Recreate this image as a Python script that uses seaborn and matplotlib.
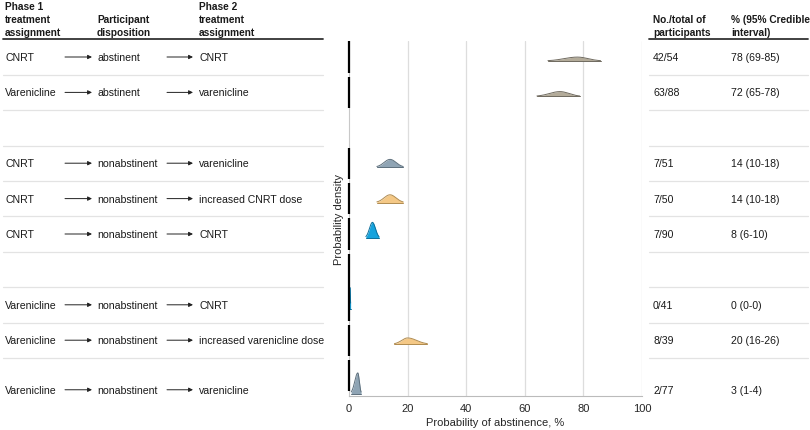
import numpy as np
import matplotlib
matplotlib.use("Agg")
import matplotlib.pyplot as plt
import seaborn as sns
from matplotlib.transforms import blended_transform_factory

# Daten aus der Abbildung
phase1 = ["CNRT", "Varenicline", "CNRT", "CNRT", "CNRT",
          "Varenicline", "Varenicline", "Varenicline"]
disposition = ["abstinent", "abstinent", "nonabstinent", "nonabstinent", "nonabstinent",
               "nonabstinent", "nonabstinent", "nonabstinent"]
phase2 = ["CNRT", "varenicline", "varenicline", "increased CNRT dose", "CNRT",
          "CNRT", "increased varenicline dose", "varenicline"]
n_abstinent = [42, 63, 7, 7, 7, 0, 8, 2]
n_total = [54, 88, 51, 50, 90, 41, 39, 77]
pct = [78, 72, 14, 14, 8, 0, 20, 3]
ci_lo = [69, 65, 10, 10, 6, 0, 16, 1]
ci_hi = [85, 78, 18, 18, 10, 0, 26, 4]
x_ticks = [0, 20, 40, 60, 80, 100]

# Layout (Zeilen-Slots, Leerzeilen bei 2 und 6)
row_slot = [0, 1, 3, 4, 5, 7, 8, 9]
last_shift = 0.4
px_per_slot = 35.4
W, H = 810, 431
ax_top_px, ax_bot_px = 42, 397
row0_px = 58

colors = {
    "abstinent": ("#b3ab99", "#6f6a5f"),
    "varenicline": ("#8fa4b4", "#5d6f7c"),
    "CNRT": ("#16a3dd", "#0b6f9b"),
    "increased": ("#f4c886", "#b08b4f"),
}


def color_key(disp, p2):
    if disp == "abstinent":
        return "abstinent"
    if p2.startswith("increased"):
        return "increased"
    return p2


sns.set_theme(style="white")
plt.rcParams["font.family"] = ["Liberation Sans", "DejaVu Sans"]
fs = 7.6
fs_hdr = 7.3

fig = plt.figure(figsize=(W / 100, H / 100), dpi=100)
ax = fig.add_axes([349 / W, 1 - ax_bot_px / H, 293 / W, (ax_bot_px - ax_top_px) / H])

y_top = (ax_top_px - row0_px) / px_per_slot
y_bot = (ax_bot_px - row0_px) / px_per_slot
ax.set_xlim(0, 100)
ax.set_ylim(y_bot, y_top)

# Gitter
for t in x_ticks[1:]:
    ax.axvline(t, color="#dddddd", lw=0.9, zorder=0)
ax.grid(False)

for s in ["top", "right"]:
    ax.spines[s].set_visible(False)
ax.spines["left"].set_color("#c8c8c8")
ax.spines["left"].set_linewidth(0.8)
ax.spines["bottom"].set_color("#bbbbbb")
ax.spines["bottom"].set_linewidth(0.8)
ax.set_yticks([])
ax.set_xticks(x_ticks)
ax.tick_params(axis="x", length=3, width=0.7, color="#999999", labelsize=fs + 0.4, pad=2)
ax.set_xlabel("Probability of abstinence, %", fontsize=fs + 0.4, labelpad=3)
ax.set_ylabel("Probability density", fontsize=fs + 0.4)
ax.yaxis.set_label_coords(-0.018, 0.5)

# Dichtekurven
dens_scale = 40 / px_per_slot
cap = 0.6
base_off = 4 / px_per_slot
gap = 2 / px_per_slot
for i in range(len(pct)):
    yc = row_slot[i] + (last_shift if i == len(pct) - 1 else 0)
    base = yc + base_off
    m = pct[i]
    s_lo = max((m - ci_lo[i]) / 1.96, 0.25)
    s_hi = max((ci_hi[i] - m) / 1.96, 0.25)
    xs = np.linspace(max(m - 2.2 * s_lo, 0), min(m + 2.2 * s_hi, 100), 200)
    sd = np.where(xs < m, s_lo, s_hi)
    dens = 2 / (np.sqrt(2 * np.pi) * (s_lo + s_hi)) * np.exp(-0.5 * ((xs - m) / sd) ** 2)
    h = np.minimum(dens * dens_scale, cap)
    fill, edge = colors[color_key(disposition[i], phase2[i])]
    ax.fill_between(xs, base, base - h, color=fill, zorder=3, lw=0)
    sns.lineplot(x=xs, y=base - h, ax=ax, color=edge, lw=0.7, zorder=4, sort=False)
    ax.plot([xs[0], xs[-1]], [base, base], color=edge, lw=0.7, zorder=4)

    # schwarzes Achsensegment pro Zeile
    seg_top = row_slot[i] - 0.5 + gap
    if i == 5:
        seg_top = row_slot[i] - 1.5 + gap
    seg_bot = min(row_slot[i] + 0.5, y_bot) - gap
    ax.plot([0, 0], [seg_top, seg_bot], color="black", lw=1.6, zorder=5,
            solid_capstyle="butt", clip_on=False)

# Tabellen links und rechts
tr = blended_transform_factory(fig.transFigure, ax.transData)


def fx(px):
    return px / W


def fy(px):
    return 1 - px / H


hdr = dict(fontsize=fs_hdr, fontweight="bold", va="center", ha="left", color="#1a1a1a")
fig.text(fx(5), fy(7), "Phase 1", **hdr)
fig.text(fx(5), fy(20), "treatment", **hdr)
fig.text(fx(5), fy(33), "assignment", **hdr)
fig.text(fx(97), fy(20), "Participant", **hdr)
fig.text(fx(97), fy(33), "disposition", **hdr)
fig.text(fx(199), fy(7), "Phase 2", **hdr)
fig.text(fx(199), fy(20), "treatment", **hdr)
fig.text(fx(199), fy(33), "assignment", **hdr)
fig.text(fx(653), fy(20), "No./total of", **hdr)
fig.text(fx(653), fy(33), "participants", **hdr)
fig.text(fx(731), fy(20), "% (95% Credible", **hdr)
fig.text(fx(731), fy(33), "interval)", **hdr)

for i in range(len(pct)):
    yc = row_slot[i] + (last_shift if i == len(pct) - 1 else 0)
    kw = dict(transform=tr, fontsize=fs, va="center", ha="left", clip_on=False, color="#1a1a1a")
    ax.text(fx(5), yc, phase1[i], **kw)
    ax.text(fx(97), yc, disposition[i], **kw)
    ax.text(fx(199), yc, phase2[i], **kw)
    ax.text(fx(653), yc, f"{n_abstinent[i]}/{n_total[i]}", **kw)
    ax.text(fx(731), yc, f"{pct[i]} ({ci_lo[i]}-{ci_hi[i]})", **kw)
    for x0, x1 in [(65, 92), (167, 193)]:
        ax.annotate("", xy=(fx(x1), yc), xytext=(fx(x0), yc),
                    xycoords=tr, textcoords=tr,
                    arrowprops=dict(arrowstyle="-|>", color="#222222", lw=0.7,
                                    mutation_scale=6, shrinkA=0, shrinkB=0),
                    annotation_clip=False)

# Trennlinien
bounds = sorted({s - 0.5 for s in row_slot} | {s + 0.5 for s in row_slot[:-1]})
for b in bounds:
    header = b == bounds[0]
    col = "#333333" if header else "#e3e3e3"
    lw = 1.3 if header else 0.9
    for x0, x1 in [(3, 323), (649, 808)]:
        ax.plot([fx(x0), fx(x1)], [b, b], transform=tr, color=col, lw=lw,
                clip_on=False, zorder=1)

fig.savefig("out.png", dpi=100)
